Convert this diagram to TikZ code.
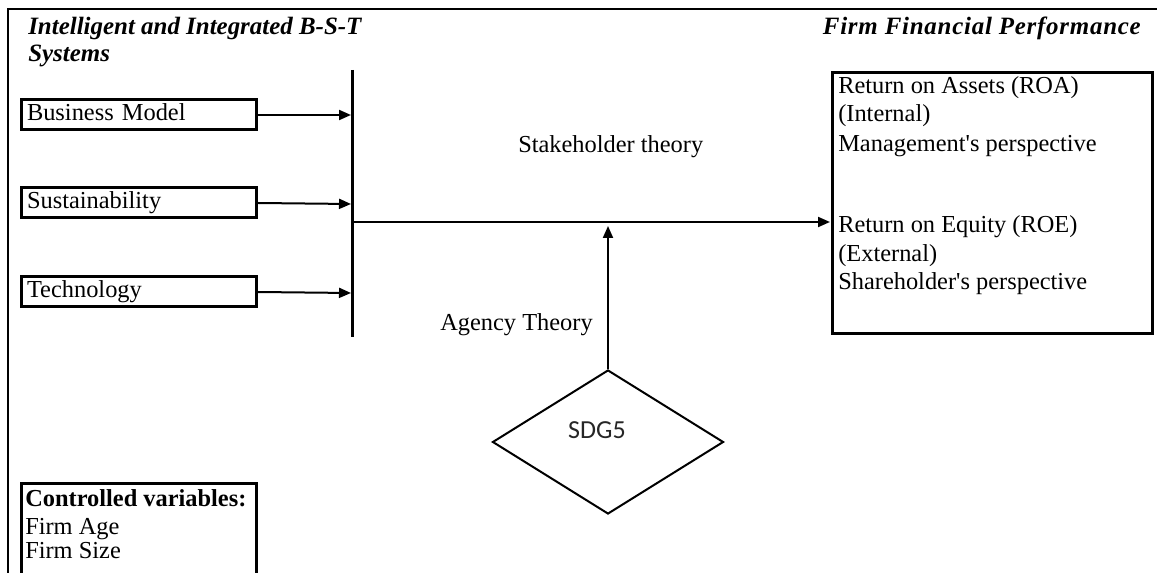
\documentclass[tikz,border=0pt]{standalone}
\usepackage{fontspec}
\setmainfont{Liberation Serif}
\newfontfamily\sdgfont{Carlito}
\usetikzlibrary{arrows.meta,shapes.geometric}
\begin{document}
\begin{tikzpicture}[x=0.75pt,y=-0.75pt,
  txt/.style={inner sep=0pt,font=\fontsize{18.3}{21}\selectfont},
  ttl/.style={inner sep=0pt,font=\fontsize{18.7}{21}\selectfont\bfseries\itshape},
  inbox/.style={draw,line width=2.25pt,minimum width=176.25pt,minimum height=22.5pt,
    inner xsep=3pt,inner ysep=0pt,text width=168pt,align=left,
    text height=12.5pt,text depth=3.5pt,anchor=west,font=\fontsize{18.3}{21}\selectfont},
  arr/.style={line width=1.5pt,-{Triangle[length=9pt,width=7.5pt]}},
  bar/.style={line width=2.25pt}]
\useasboundingbox (0,0) rectangle (1157,573);
\clip (0,0) rectangle (1157,573);
% frame
\draw[line width=1.5pt] (8,580) -- (8,9) -- (1165,9);
% titles
\node[ttl,anchor=base west] (t1) at (28,35) {Intelligent and Integrated B-S-T};
\node[ttl,anchor=base west] (t2) at (28,62) {Systems};
\node[ttl,anchor=base east,font=\fontsize{18.7}{21}\selectfont\bfseries\itshape\addfontfeature{LetterSpace=3}] (t3) at (1141,35) {Firm Financial Performance};
% input boxes
\node[inbox] (bm) at (20,115) {Business Model};
\node[inbox] (su) at (20,203) {Sustainability};
\node[inbox] (te) at (20,292) {Technology};
% vertical bar
\coordinate (vt) at (352,70);
\coordinate (vb) at (352,337);
\draw[bar] (vt) -- (vb);
\coordinate (abm) at (351,115);
\coordinate (asu) at (351,204);
\coordinate (ate) at (351,293);
\draw[arr] (bm.east) -- (abm);
\draw[arr] (su.east) -- (asu);
\draw[arr] (te.east) -- (ate);
% performance box
\node[draw,line width=2.25pt,minimum width=240pt,minimum height=195.75pt,inner sep=0pt,anchor=north west] (perf) at (831,71) {};
\node[txt,anchor=base west] (p1) at (838,94) {Return on Assets (ROA)};
\node[txt,anchor=base west] (p2) at (838,122) {(Internal)};
\node[txt,anchor=base west] (p3) at (838,152) {Management\textquotesingle s perspective};
\node[txt,anchor=base west] (p4) at (838,233) {Return on Equity (ROE)};
\node[txt,anchor=base west] (p5) at (838,262) {(External)};
\node[txt,anchor=base west] (p6) at (838,290) {Shareholder\textquotesingle s perspective};
% main arrow
\coordinate (hs) at (352,222);
\coordinate (he) at (830,222);
\draw[arr] (hs) -- (he);
% theory labels
\node[txt,anchor=base west] (st) at (518,153) {Stakeholder theory};
\node[txt,anchor=base west] (ag) at (440,331) {Agency Theory};
% diamond
\node[draw,shape=diamond,line width=1.5pt,minimum width=173.25pt,minimum height=108pt,inner sep=0pt] (sdg) at (608,442) {};
\node[inner sep=0pt,font=\sdgfont\fontsize{19.5}{22}\selectfont,text=black!85] (sdgt) at (597,430) {SDG5};
\coordinate (ha) at (608,226);
\draw[arr] (sdg.north) -- (ha);
% controlled variables
\node[draw,line width=2.25pt,minimum width=176.25pt,minimum height=75pt,inner sep=0pt,anchor=north west] (cv) at (20,482) {};
\node[txt,anchor=base west,font=\fontsize{18.3}{21}\selectfont\bfseries] (c1) at (25,507) {Controlled variables:};
\node[txt,anchor=base west] (c2) at (25,534) {Firm Age};
\node[txt,anchor=base west] (c3) at (25,558) {Firm Size};
\end{tikzpicture}
\end{document}
